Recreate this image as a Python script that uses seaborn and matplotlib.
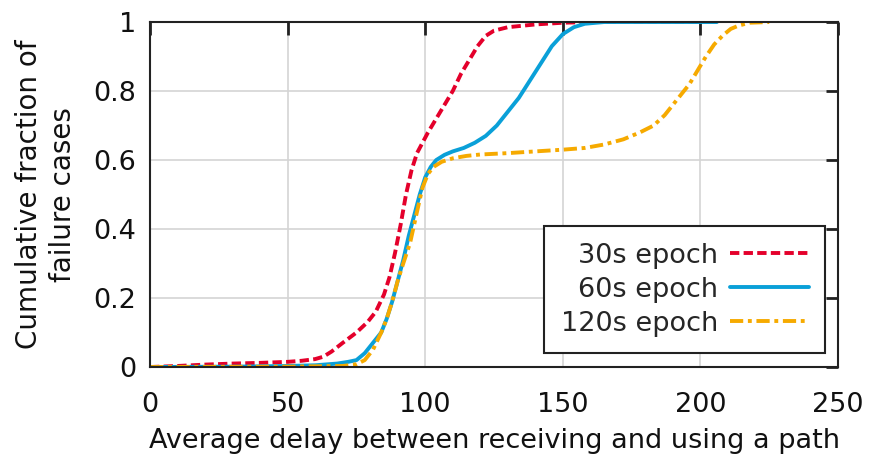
import matplotlib
matplotlib.use("Agg")
import matplotlib.pyplot as plt
import seaborn as sns

# ---- data ----
red_x = [0, 10, 20, 30, 40, 50, 55, 60, 63, 66, 70, 75, 79, 82, 85, 87, 89, 91, 93, 95, 97, 99, 101, 104, 107, 110, 113, 116, 119, 122, 125, 130, 140, 150, 160, 200]
red_y = [0, 0.003, 0.007, 0.01, 0.012, 0.015, 0.018, 0.023, 0.03, 0.045, 0.07, 0.1, 0.13, 0.16, 0.21, 0.26, 0.33, 0.41, 0.5, 0.57, 0.62, 0.65, 0.68, 0.72, 0.76, 0.8, 0.85, 0.89, 0.93, 0.96, 0.975, 0.985, 0.993, 0.998, 1.0, 1.0]

blue_x = [0, 30, 50, 60, 68, 72, 75, 78, 81, 84, 86, 88, 90, 92, 94, 96, 98, 100, 102, 104, 107, 110, 114, 118, 122, 126, 130, 134, 138, 142, 146, 150, 154, 158, 165, 206]
blue_y = [0, 0.001, 0.003, 0.005, 0.01, 0.015, 0.02, 0.04, 0.07, 0.1, 0.14, 0.19, 0.25, 0.31, 0.38, 0.44, 0.5, 0.55, 0.58, 0.6, 0.615, 0.625, 0.635, 0.65, 0.67, 0.70, 0.74, 0.78, 0.83, 0.88, 0.93, 0.965, 0.985, 0.995, 1.0, 1.0]

orange_x = [0, 50, 70, 75, 78, 81, 84, 86, 88, 90, 92, 94.5, 97, 99, 101, 103, 106, 110, 115, 120, 130, 140, 150, 158, 165, 172, 178, 183, 187, 190, 193, 196, 199, 202, 205, 208, 211, 214, 218, 225]
orange_y = [0, 0.001, 0.003, 0.008, 0.02, 0.05, 0.1, 0.14, 0.19, 0.25, 0.3, 0.36, 0.45, 0.52, 0.56, 0.58, 0.595, 0.605, 0.612, 0.616, 0.62, 0.625, 0.63, 0.635, 0.645, 0.66, 0.68, 0.70, 0.73, 0.76, 0.79, 0.82, 0.86, 0.9, 0.935, 0.96, 0.98, 0.99, 0.998, 1.0]

labels = ["30s epoch", "60s epoch", "120s epoch"]
x_ticks = [0, 50, 100, 150, 200, 250]
y_ticks = [0, 0.2, 0.4, 0.6, 0.8, 1.0]
y_ticklabels = ["0", "0.2", "0.4", "0.6", "0.8", "1"]

sns.set_style("white")
plt.rcParams["font.family"] = ["DejaVu Sans"]

FS = 19.5
fig = plt.figure(figsize=(8.88, 4.59), dpi=100)
ax = fig.add_axes([0.169, 0.2004, 0.7747, 0.7516])

lw = 2.8
sns.lineplot(x=red_x, y=red_y, ax=ax, color="#e4002b", lw=lw, sort=False,
             linestyle=(0, (2.4, 1.1)), label=labels[0])
sns.lineplot(x=blue_x, y=blue_y, ax=ax, color="#0aa0d8", lw=lw, sort=False,
             label=labels[1])
sns.lineplot(x=orange_x, y=orange_y, ax=ax, color="#f6aa00", lw=lw, sort=False,
             linestyle=(0, (3.4, 1.2, 1.0, 1.2)), label=labels[2])

ax.set_xlim(0, 250)
ax.set_ylim(0, 1)
ax.set_xticks(x_ticks)
ax.set_xticklabels([str(t) for t in x_ticks])
ax.set_yticks(y_ticks)
ax.set_yticklabels(y_ticklabels)
ax.grid(True, color="#d4d4d4", lw=1.2)
ax.set_axisbelow(True)
for s in ax.spines.values():
    s.set_color("#222222")
    s.set_linewidth(1.5)
ax.tick_params(direction="in", length=9, width=2, top=True, right=True,
               labelsize=FS, colors="#222222", labelcolor="#111111")
ax.tick_params(axis="x", pad=18)
ax.tick_params(axis="y", pad=10)

ax.set_xlabel("Average delay between receiving and using a path", fontsize=FS, labelpad=7, color="#111111")
ax.set_ylabel("Cumulative fraction of\nfailure cases", fontsize=20, labelpad=12, color="#111111",
              linespacing=1.25)

leg = ax.legend(loc="lower right", bbox_to_anchor=(0.981, 0.0406), borderaxespad=0,
                fontsize=FS, markerfirst=False, handlelength=2.9, fancybox=False,
                frameon=True, edgecolor="#222222", framealpha=1, labelspacing=0.3,
                borderpad=0.6, handletextpad=0.45)
leg.get_frame().set_linewidth(1.5)
for vp in leg._legend_handle_box.get_children():
    vp.align = "right"

fig.savefig("out.png", dpi=100)
